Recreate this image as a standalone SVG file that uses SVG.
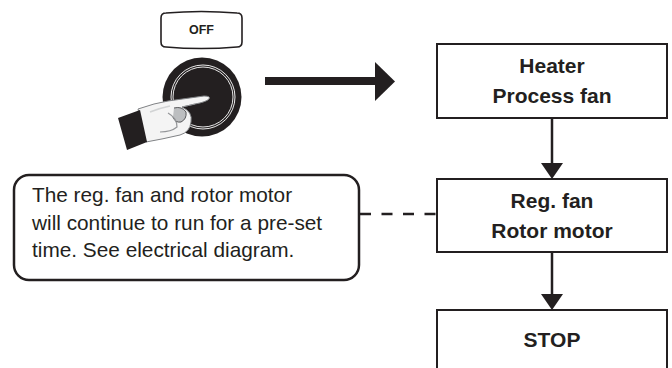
<svg xmlns="http://www.w3.org/2000/svg" width="672" height="368" viewBox="0 0 672 368">
  <defs>
    <style>
      .box { fill: #ffffff; stroke: #231f20; stroke-width: 2; }
      .label { font-family: "Liberation Sans", Arial, sans-serif; font-weight: bold; font-size: 21px; fill: #231f20; text-anchor: middle; }
      .note { font-family: "Liberation Sans", Arial, sans-serif; font-size: 20.8px; fill: #231f20; }
      .flow { stroke: #231f20; stroke-width: 2.5; fill: none; }
      .head { fill: #231f20; }
    </style>
  </defs>
  <rect width="672" height="368" fill="#ffffff"/>

  <!-- OFF push button -->
  <g id="off-button">
    <path d="M166,13 Q201,10 237,13 Q242,13 242,18 L242,42 Q242,47 237,47 Q201,50 166,47 Q161,47 161,42 L161,18 Q161,13 166,13 Z" fill="#ffffff" stroke="#231f20" stroke-width="1.6"/>
    <text x="201.5" y="34" font-family="Liberation Sans, Arial, sans-serif" font-weight="bold" font-size="12.5px" fill="#231f20" text-anchor="middle">OFF</text>
  </g>

  <!-- Rotary knob with pressing hand -->
  <g id="knob">
    <circle cx="202" cy="97" r="39.5" fill="#231f20"/>
    <circle cx="203" cy="97" r="32" fill="none" stroke="#ffffff" stroke-width="0.9"/>
    <circle cx="203" cy="97" r="30" fill="none" stroke="#ffffff" stroke-width="0.9"/>
  </g>
  <g id="hand">
    <!-- palm and curled fingers -->
    <path d="M138,109 Q155,103 168,101 L204,96 Q211,96 209,99 Q206,102 195,104 L182,107 Q193,112 191,122 Q190,132 180,135 Q163,139 146,142 Z" fill="#f4f4f4" stroke="#808285" stroke-width="1"/>
    <path d="M174,108 Q182,106 186,112 Q187,119 181,122 Q175,123 173,117" fill="#bcbec0" stroke="#58595b" stroke-width="1"/>
    <path d="M168,113 Q177,118 177,127 Q171,132 160,132" fill="none" stroke="#939598" stroke-width="1.2"/>
    <path d="M150,112 Q160,108 170,106" fill="none" stroke="#d1d3d4" stroke-width="1.5"/>
    <path d="M182,107 L195,104" fill="none" stroke="#939598" stroke-width="0.8"/>
    <!-- cuff -->
    <path d="M118,118 L140,110 L147,142 L127,150 Z" fill="#231f20"/>
  </g>

  <!-- Note box -->
  <g id="note">
    <rect x="14" y="175" width="345" height="105" rx="15" ry="15" fill="#ffffff" stroke="#231f20" stroke-width="2.5"/>
    <text class="note" x="32" y="202">The reg. fan and rotor motor</text>
    <text class="note" x="32" y="230">will continue to run for a pre-set</text>
    <text class="note" x="32" y="257">time. See electrical diagram.</text>
  </g>

  <!-- Flow steps -->
  <g id="heater">
    <rect class="box" x="437" y="44" width="230" height="74"/>
    <text class="label" x="552" y="73">Heater</text>
    <text class="label" x="552" y="103">Process fan</text>
  </g>
  <g id="reg-fan">
    <rect class="box" x="437" y="179" width="230" height="73"/>
    <text class="label" x="552" y="208">Reg. fan</text>
    <text class="label" x="552" y="238">Rotor motor</text>
  </g>
  <g id="stop">
    <rect class="box" x="437" y="310" width="230" height="70"/>
    <text class="label" x="552" y="347">STOP</text>
  </g>

  <!-- Connectors -->
  <g id="connectors">
    <path d="M265,81 L376,81" stroke="#231f20" stroke-width="8"/>
    <polygon class="head" points="375,62 395,81.5 375,101"/>
    <line class="flow" x1="552" y1="118" x2="552" y2="164"/>
    <polygon class="head" points="541,163 563,163 552,179"/>
    <line class="flow" x1="552" y1="252" x2="552" y2="295"/>
    <polygon class="head" points="541,294 563,294 552,310"/>
    <line x1="360" y1="214" x2="436" y2="214" stroke="#231f20" stroke-width="2.5" stroke-dasharray="11 10.5"/>
  </g>
</svg>
